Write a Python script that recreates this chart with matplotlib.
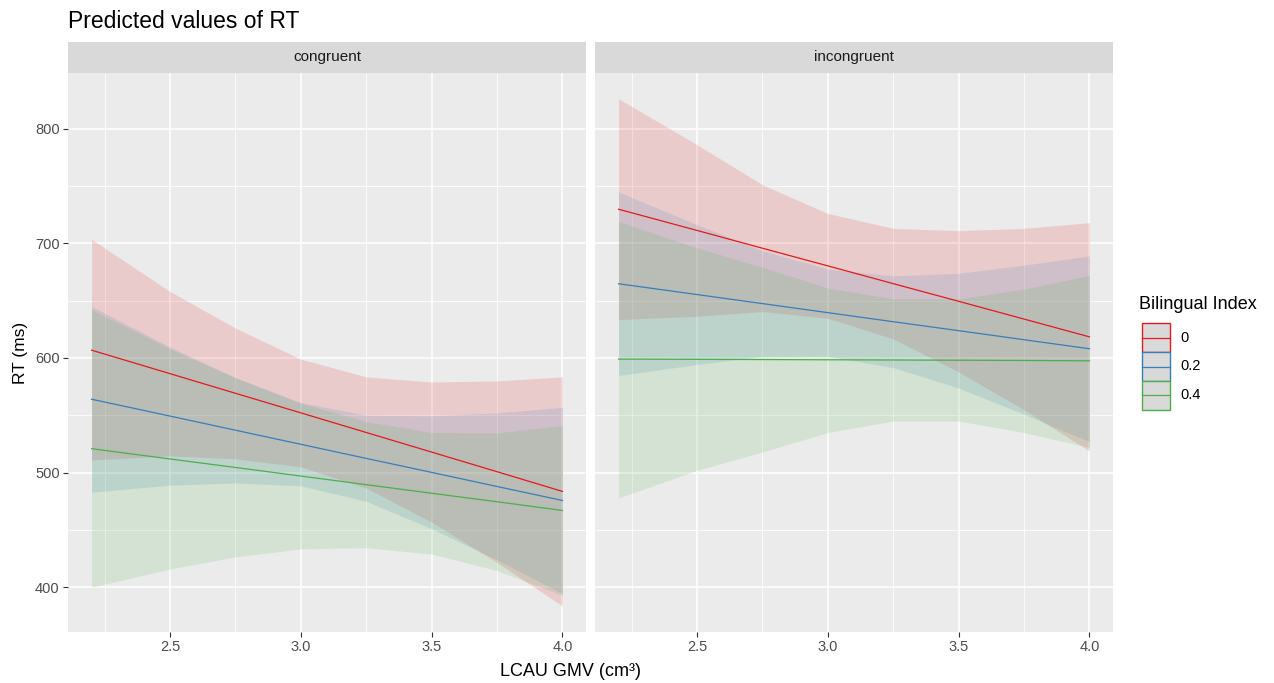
import matplotlib
matplotlib.use("Agg")
import matplotlib.pyplot as plt
from matplotlib.patches import Rectangle
from matplotlib.lines import Line2D

plt.rcParams['font.family'] = ['Liberation Sans', 'DejaVu Sans']

gmv = [2.2, 2.5, 2.75, 3.0, 3.25, 3.5, 3.75, 4.0]

conditions = ['congruent', 'incongruent']
groups = ['0', '0.2', '0.4']
colors = ['#E41A1C', '#377EB8', '#4DAF4A']

# congruent panel
cong_pred = {
    '0':   [606.8, 586.3, 569.2, 552.1, 535.0, 517.9, 500.8, 483.6],
    '0.2': [564.0, 549.3, 537.0, 524.7, 512.4, 500.2, 487.9, 475.7],
    '0.4': [520.9, 511.9, 504.5, 497.0, 489.5, 482.0, 474.6, 467.0],
}
cong_upper = {
    '0':   [703.5, 658.0, 626.0, 599.0, 583.5, 579.0, 580.0, 583.5],
    '0.2': [645.0, 609.5, 583.0, 561.0, 550.0, 549.5, 552.0, 557.0],
    '0.4': [642.0, 608.0, 582.5, 560.5, 544.5, 535.0, 534.6, 541.0],
}
cong_lower = {
    '0':   [511.0, 514.6, 512.0, 505.0, 486.5, 456.8, 421.6, 383.7],
    '0.2': [483.0, 489.0, 491.0, 488.5, 475.0, 451.0, 424.0, 394.5],
    '0.4': [400.0, 416.0, 426.5, 433.5, 434.5, 429.0, 414.6, 393.0],
}

# incongruent panel
incong_pred = {
    '0':   [729.7, 711.2, 695.7, 680.3, 664.8, 649.4, 633.9, 618.4],
    '0.2': [664.7, 655.3, 647.4, 639.5, 631.6, 623.8, 615.9, 608.0],
    '0.4': [599.0, 598.8, 598.6, 598.4, 598.2, 598.0, 597.8, 597.5],
}
incong_upper = {
    '0':   [826.0, 786.0, 751.0, 726.0, 713.0, 711.0, 713.0, 718.0],
    '0.2': [744.7, 716.3, 693.4, 677.5, 671.6, 673.8, 680.9, 689.0],
    '0.4': [719.0, 696.0, 679.0, 661.0, 651.5, 651.5, 660.0, 672.0],
}
incong_lower = {
    '0':   [633.4, 636.4, 640.4, 634.6, 616.6, 587.8, 554.8, 518.8],
    '0.2': [584.7, 594.3, 601.4, 601.5, 591.6, 573.8, 550.9, 527.0],
    '0.4': [478.0, 502.0, 518.0, 535.0, 545.0, 545.0, 535.0, 522.0],
}

panels = [(cong_pred, cong_upper, cong_lower), (incong_pred, incong_upper, incong_lower)]

W, H = 1274, 683
fig = plt.figure(figsize=(W / 100, H / 100), dpi=100)

def fx(px):
    return px / W

def fy(py):
    return 1 - py / H

panel_left = [68, 595]
panel_w = 518
top, bottom = 73, 632
strip_top = 42

for i, (pred, upper, lower) in enumerate(panels):
    ax = fig.add_axes([fx(panel_left[i]), fy(bottom), panel_w / W, (bottom - top) / H])
    ax.set_facecolor('#EBEBEB')
    for g, c in zip(groups, colors):
        ax.fill_between(gmv, lower[g], upper[g], color=c, alpha=0.15, linewidth=0, zorder=2)
    for g, c in zip(groups, colors):
        ax.plot(gmv, pred[g], color=c, linewidth=0.9, zorder=3)
    ax.set_xlim(2.11, 4.09)
    ax.set_ylim(361, 848.5)
    ax.set_xticks([2.5, 3.0, 3.5, 4.0])
    ax.set_xticks([2.25, 2.75, 3.25, 3.75], minor=True)
    ax.set_yticks([400, 500, 600, 700, 800])
    ax.set_yticks([450, 550, 650, 750], minor=True)
    ax.set_xticklabels(['2.5', '3.0', '3.5', '4.0'])
    ax.grid(which='major', color='white', linewidth=1.1, zorder=0)
    ax.grid(which='minor', color='white', linewidth=0.55, zorder=0)
    ax.set_axisbelow(True)
    for s in ax.spines.values():
        s.set_visible(False)
    ax.tick_params(which='minor', length=0)
    ax.tick_params(which='major', length=3.5, width=0.8, color='#333333',
                   labelsize=10.5, labelcolor='#4D4D4D', pad=2.5)
    if i == 0:
        ax.set_yticklabels(['400', '500', '600', '700', '800'])
        ax.set_ylabel('RT (ms)', fontsize=12.5, color='black', labelpad=5)
    else:
        ax.tick_params(axis='y', left=False, labelleft=False)

    sax = fig.add_axes([fx(panel_left[i]), fy(top), panel_w / W, (top - strip_top) / H])
    sax.set_facecolor('#D9D9D9')
    sax.set_xticks([])
    sax.set_yticks([])
    for s in sax.spines.values():
        s.set_visible(False)
    sax.text(0.5, 0.5, conditions[i], ha='center', va='center', fontsize=11,
             color='#1A1A1A', transform=sax.transAxes)

fig.text(fx(68), fy(21), 'Predicted values of RT', fontsize=16.5, ha='left', va='center')
fig.text(fx(571), fy(671), 'LCAU GMV (cm³)', fontsize=13, ha='center', va='center')

# legend drawn by hand: grey key box, coloured border, line through the middle
fig.text(fx(1139), fy(305), 'Bilingual Index', fontsize=13, ha='left', va='center')
key_x, key_w, key_h, key_top = 1142, 28, 29, 323
for k, (g, c) in enumerate(zip(groups, colors)):
    y_top = key_top + k * key_h
    fig.add_artist(Rectangle((fx(key_x), fy(y_top + key_h)), key_w / W, key_h / H,
                             facecolor='#D9D9D9', edgecolor=c, linewidth=1.0,
                             transform=fig.transFigure))
    fig.add_artist(Line2D([fx(key_x), fx(key_x + key_w)],
                          [fy(y_top + key_h / 2)] * 2, color=c, linewidth=0.9,
                          transform=fig.transFigure))
    fig.text(fx(key_x + key_w + 10), fy(y_top + key_h / 2), g, fontsize=10.5,
             ha='left', va='center')

fig.savefig('out.png', dpi=100)
